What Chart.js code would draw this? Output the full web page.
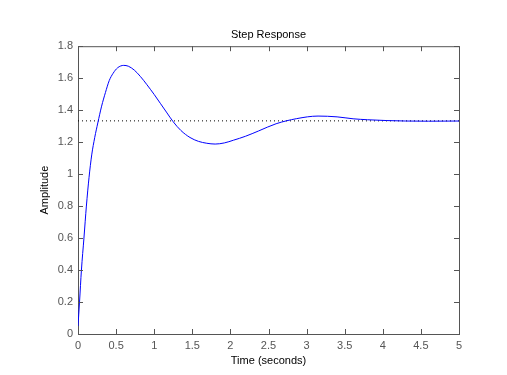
<!DOCTYPE html>
<html>
<head>
<meta charset="utf-8">
<script src="https://cdn.jsdelivr.net/npm/chart.js@4"></script>
<style>
  html, body { margin: 0; padding: 0; background: #fff; }
  canvas { display: block; }
</style>
</head>
<body>
<canvas id="stepChart" width="507" height="375"></canvas>
<script>
// time (s) and amplitude
const times = [0, 0.02, 0.045, 0.078, 0.11, 0.145, 0.18, 0.22, 0.26, 0.31, 0.36, 0.41, 0.46, 0.52, 0.6, 0.66, 0.74,
  0.82, 0.9, 1.0, 1.08, 1.16, 1.25, 1.35, 1.47, 1.58, 1.69, 1.8, 1.92, 2.04, 2.2, 2.37, 2.6, 2.87, 3.15, 3.4,
  3.61, 3.8, 4.05, 4.3, 4.6, 5.0];
const amplitude = [0.05, 0.2, 0.4, 0.6, 0.8, 0.98, 1.12, 1.23, 1.32, 1.425, 1.51, 1.585, 1.63, 1.665, 1.68, 1.675, 1.65,
  1.61, 1.562, 1.498, 1.443, 1.388, 1.327, 1.273, 1.229, 1.205, 1.193, 1.188, 1.195, 1.212, 1.237, 1.27, 1.315, 1.347, 1.363, 1.358,
  1.346, 1.34, 1.335, 1.332, 1.331, 1.332];
const steadyTimes = [0, 5];
const steadyValue = [1.333, 1.333];

const axisColor = '#555';

// draws the box round the axes and the inward tick marks
const boxPlugin = {
  id: 'boxTicks',
  afterDraw(chart) {
    const ctx = chart.ctx;
    const a = chart.chartArea;
    const xs = chart.scales.x, ys = chart.scales.y;
    ctx.save();
    ctx.strokeStyle = axisColor;
    ctx.lineWidth = 1;
    ctx.beginPath();
    ctx.moveTo(a.left, a.top + 0.5);
    ctx.lineTo(a.right + 0.5, a.top + 0.5);
    ctx.lineTo(a.right + 0.5, a.bottom);
    const len = 5;
    xs.ticks.forEach(t => {
      const px = Math.round(xs.getPixelForValue(t.value)) + 0.5;
      ctx.moveTo(px, a.bottom); ctx.lineTo(px, a.bottom - len);
      ctx.moveTo(px, a.top); ctx.lineTo(px, a.top + len);
    });
    ys.ticks.forEach(t => {
      const py = Math.round(ys.getPixelForValue(t.value)) + 0.5;
      ctx.moveTo(a.left, py); ctx.lineTo(a.left + len, py);
      ctx.moveTo(a.right, py); ctx.lineTo(a.right - len, py);
    });
    ctx.stroke();
    ctx.restore();
  }
};

const font = { family: "'Liberation Sans', Arial, Helvetica, sans-serif", size: 11 };

new Chart(document.getElementById('stepChart'), {
  type: 'line',
  data: {
    datasets: [{
      data: times.map((t, i) => ({ x: t, y: amplitude[i] })),
      borderColor: '#0000ff',
      borderWidth: 1,
      pointRadius: 0,
      cubicInterpolationMode: 'monotone'
    }, {
      data: steadyTimes.map((t, i) => ({ x: t, y: steadyValue[i] })),
      borderColor: '#000',
      borderWidth: 1,
      borderDash: [1, 3],
      pointRadius: 0
    }]
  },
  options: {
    responsive: false,
    animation: false,
    layout: { padding: { left: 0, right: 48, top: 0, bottom: 0 } },
    plugins: {
      legend: { display: false },
      tooltip: { enabled: false },
      title: {
        display: true,
        text: 'Step Response',
        fullSize: false,
        color: '#000',
        font: { ...font, weight: 'normal' },
        padding: { top: 28, bottom: 5 }
      }
    },
    scales: {
      x: {
        type: 'linear',
        min: 0, max: 5,
        grid: { display: false, tickLength: 0 },
        border: { display: true, color: axisColor },
        ticks: { stepSize: 0.5, color: axisColor, font, padding: 5, maxRotation: 0,
          callback: v => String(Math.round(v * 10) / 10) },
        title: { display: true, text: 'Time (seconds)', color: '#000', font, padding: { top: 0, bottom: 7 } },
        afterFit(scale) { scale.height = 41; }
      },
      y: {
        min: 0, max: 1.8,
        grid: { display: false, tickLength: 0 },
        border: { display: true, color: axisColor },
        ticks: { stepSize: 0.2, color: axisColor, font, padding: 5,
          callback: v => String(Math.round(v * 10) / 10) },
        title: { display: true, text: 'Amplitude', color: '#000', font, padding: { top: 38, bottom: 0 } },
        afterFit(scale) { scale.width = 78; }
      }
    }
  },
  plugins: [boxPlugin]
});
</script>
</body>
</html>
